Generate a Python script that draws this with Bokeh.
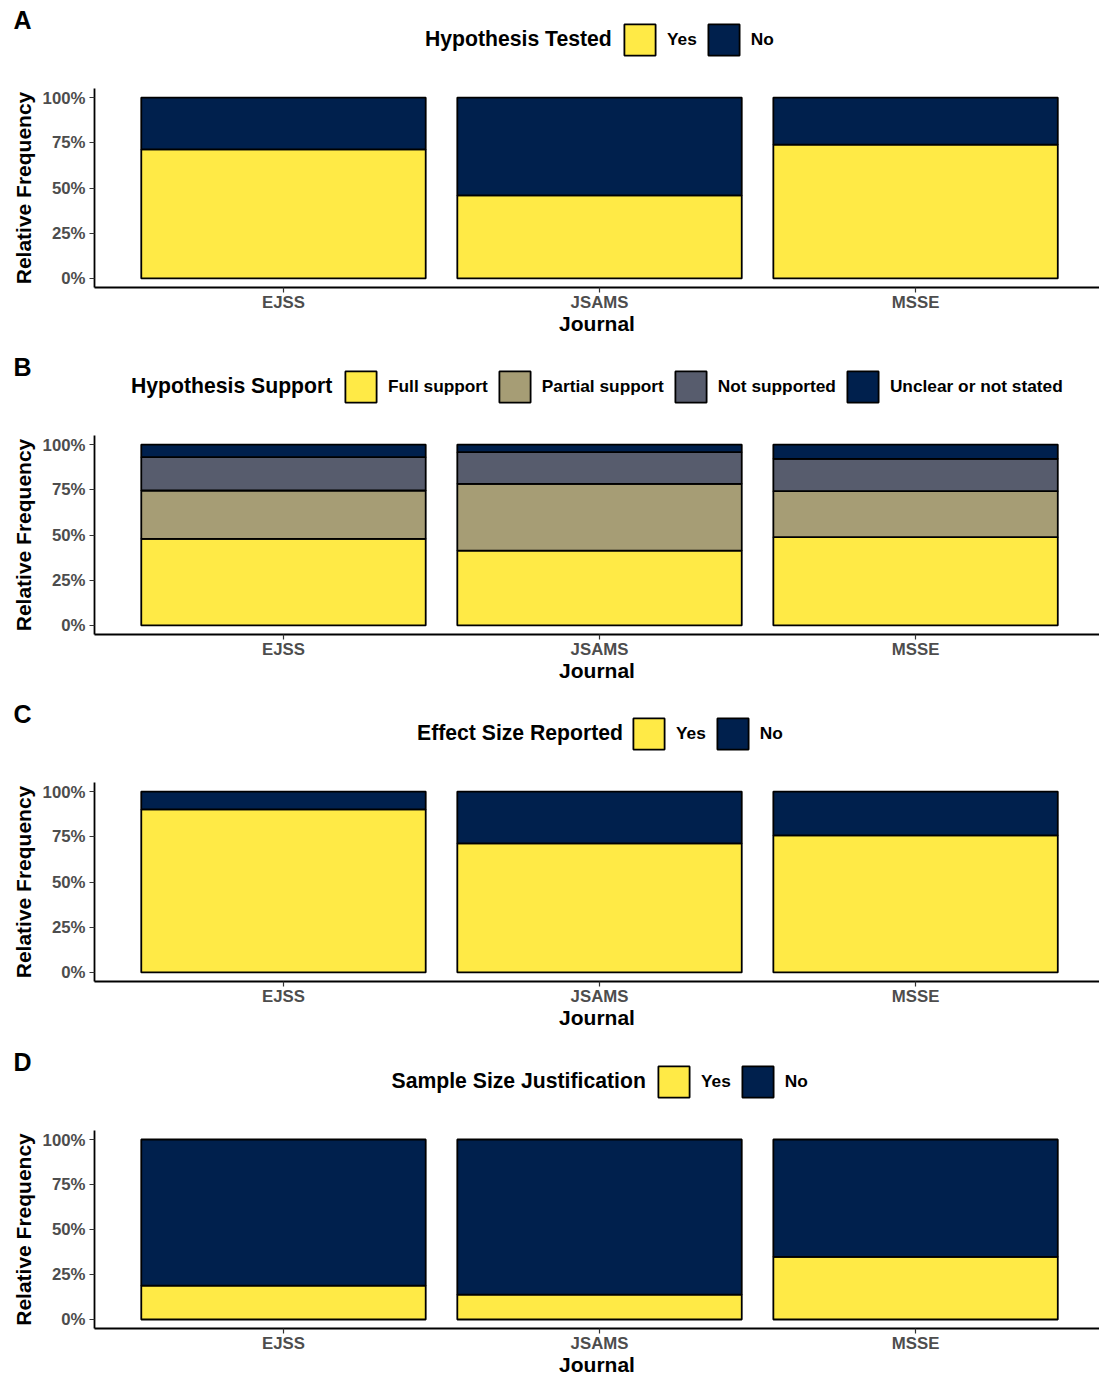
from bokeh.plotting import figure
from bokeh.models import Range1d, FixedTicker, Legend, LegendItem, Label, ColumnDataSource
from bokeh.layouts import column
from bokeh.embed import file_html
from bokeh.resources import INLINE

# ---------------- data ----------------
journals = ["EJSS", "JSAMS", "MSSE"]
y_ticks = [0.0, 0.25, 0.5, 0.75, 1.0]
y_tick_labels = ["0%", "25%", "50%", "75%", "100%"]

yes_no_labels = ["Yes", "No"]
yes_no_colors = ["#FFEA46", "#00204D"]

# A: Hypothesis Tested
tested_yes = [0.713, 0.459, 0.740]
tested_no = [0.287, 0.541, 0.260]

# B: Hypothesis Support
support_labels = ["Full support", "Partial support", "Not supported", "Unclear or not stated"]
support_colors = ["#FFEA46", "#A69D75", "#575C6D", "#00204D"]
support_full = [0.479, 0.414, 0.488]
support_partial = [0.267, 0.369, 0.254]
support_not = [0.184, 0.175, 0.179]
support_unclear = [0.070, 0.042, 0.079]

# C: Effect Size Reported
effect_yes = [0.901, 0.714, 0.758]
effect_no = [0.099, 0.286, 0.242]

# D: Sample Size Justification
justif_yes = [0.188, 0.138, 0.348]
justif_no = [0.812, 0.862, 0.652]

FONT = "Liberation Sans"
W = 1099
LEFT = 94
FRAME_H = 199


def make_source(labels, series):
    xs = [i + 1 for i in range(len(journals))]
    data = {"x": xs}
    for lab, vals in zip(labels, series):
        data[lab] = vals
    return xs, ColumnDataSource(data)


def make_header(tag, title, labels, series, colors, height, title_x, legend_x):
    xs, src = make_source(labels, series)
    h = figure(width=W, height=height, x_range=Range1d(0, W), y_range=Range1d(height, 0),
               output_backend="svg", toolbar_location=None,
               x_axis_location=None, y_axis_location=None,
               min_border=0, min_border_left=0, min_border_right=0,
               min_border_top=0, min_border_bottom=0, frame_align=False)
    h.outline_line_color = None
    h.grid.visible = False
    h.background_fill_color = "white"
    h.border_fill_color = "white"

    # hidden copies of the stacked bars, used only as legend keys
    keys = h.vbar_stack(labels, x="x", width=0.9, source=src, fill_color=colors,
                        line_color="black", line_width=1.8, visible=False)
    items = [LegendItem(label=lab, renderers=[r]) for lab, r in zip(labels, keys)]
    leg = Legend(items=items, orientation="horizontal",
                 location=(legend_x, 29),
                 glyph_width=39, glyph_height=39, label_standoff=8, spacing=7,
                 padding=0, margin=0, border_line_color=None,
                 background_fill_alpha=0,
                 inactive_fill_alpha=0,
                 label_text_font=FONT, label_text_font_style="bold",
                 label_text_font_size="17.3px", label_text_color="black")
    h.add_layout(leg)

    h.add_layout(Label(x=title_x, y=height - 50, text=title, text_font=FONT,
                       text_font_style="bold", text_font_size="21.2px", text_color="black",
                       text_align="left", text_baseline="middle"))
    h.add_layout(Label(x=13, y=height - 68.5, text=tag, text_font=FONT,
                       text_font_style="bold", text_font_size="25px", text_color="black",
                       text_align="left", text_baseline="middle"))
    return h


def make_main(labels, series, colors, height):
    xs, src = make_source(labels, series)
    p = figure(width=W, height=height,
               x_range=Range1d(0.402, 3.582), y_range=Range1d(-0.05, 1.05),
               output_backend="svg", toolbar_location=None,
               min_border_left=LEFT, min_border_right=0, min_border_top=0,
               min_border_bottom=height - FRAME_H)
    p.outline_line_color = None
    p.xgrid.visible = False
    p.ygrid.visible = False
    p.background_fill_color = "white"
    p.border_fill_color = "white"

    p.vbar_stack(labels, x="x", width=0.9, source=src,
                 fill_color=colors, line_color="black", line_width=1.8)

    # x axis
    xa = p.xaxis[0]
    xa.ticker = FixedTicker(ticks=xs)
    xa.major_label_overrides = {x: j for x, j in zip(xs, journals)}
    xa.axis_label = "Journal"
    xa.axis_label_text_font = FONT
    xa.axis_label_text_font_style = "bold"
    xa.axis_label_text_font_size = "21px"
    xa.axis_label_text_color = "black"
    xa.axis_label_standoff = -3
    xa.major_label_text_font = FONT
    xa.major_label_text_font_style = "bold"
    xa.major_label_text_font_size = "16.8px"
    xa.major_label_text_color = "#4D4D4D"
    xa.major_label_standoff = 0
    xa.major_tick_in = 0
    xa.major_tick_out = 5
    xa.major_tick_line_color = "#333333"
    xa.major_tick_line_width = 1.2
    xa.minor_tick_line_color = None
    xa.axis_line_color = "black"
    xa.axis_line_width = 1.8

    # y axis
    ya = p.yaxis[0]
    ya.ticker = FixedTicker(ticks=y_ticks)
    ya.major_label_overrides = {t: l for t, l in zip(y_ticks, y_tick_labels)}
    ya.axis_label = "Relative Frequency"
    ya.axis_label_text_font = FONT
    ya.axis_label_text_font_style = "bold"
    ya.axis_label_text_font_size = "21px"
    ya.axis_label_text_color = "black"
    ya.axis_label_standoff = 5
    ya.major_label_text_font = FONT
    ya.major_label_text_font_style = "bold"
    ya.major_label_text_font_size = "16.8px"
    ya.major_label_text_color = "#4D4D4D"
    ya.major_label_standoff = 4
    ya.major_tick_in = 0
    ya.major_tick_out = 5
    ya.major_tick_line_color = "#333333"
    ya.major_tick_line_width = 1.2
    ya.minor_tick_line_color = None
    ya.axis_line_color = "black"
    ya.axis_line_width = 1.8
    return p


sA = [tested_yes, tested_no]
hA = make_header("A", "Hypothesis Tested", yes_no_labels, sA, yes_no_colors, 88, 424.5, 620)
pA = make_main(yes_no_labels, sA, yes_no_colors, 259)

sB = [support_full, support_partial, support_not, support_unclear]
hB = make_header("B", "Hypothesis Support", support_labels, sB, support_colors, 88, 130.5, 341)
pB = make_main(support_labels, sB, support_colors, 259)

sC = [effect_yes, effect_no]
hC = make_header("C", "Effect Size Reported", yes_no_labels, sC, yes_no_colors, 88, 416.5, 629)
pC = make_main(yes_no_labels, sC, yes_no_colors, 259)

sD = [justif_yes, justif_no]
hD = make_header("D", "Sample Size Justification", yes_no_labels, sD, yes_no_colors, 89, 391, 654)
pD = make_main(yes_no_labels, sD, yes_no_colors, 248)

layout = column(hA, pA, hB, pB, hC, pC, hD, pD, spacing=0)

open("out.html", "w").write(file_html(layout, INLINE))
